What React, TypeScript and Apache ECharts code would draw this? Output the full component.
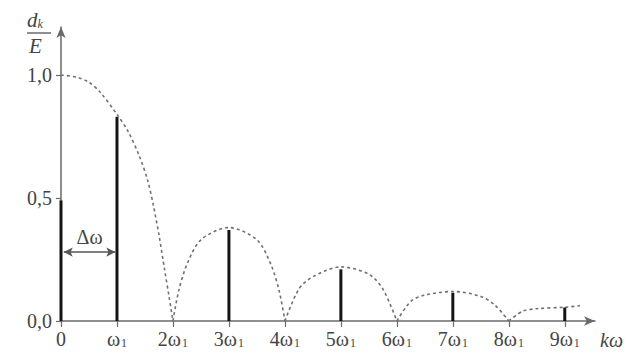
import React, { useEffect, useRef } from "react";
import * as echarts from "echarts";

// Harmonic positions (multiples of ω1) and normalised amplitudes d_k / E
const harmonicK = [0, 1, 3, 5, 7, 9];
const amplitudes = [0.49, 0.83, 0.37, 0.21, 0.115, 0.055];

// x tick labels (k·ω1)
const xTickValues = [0, 1, 2, 3, 4, 5, 6, 7, 8, 9];
const xTickLabels = ["0", "ω|1", "2ω|1", "3ω|1", "4ω|1", "5ω|1", "6ω|1", "7ω|1", "8ω|1", "9ω|1"];

// y tick labels
const yTickValues = [0, 0.5, 1.0];
const yTickLabels = ["0,0", "0,5", "1,0"];

// Envelope (dashed), one lobe at a time
const lobe1: [number, number][] = [
  [0, 1.0], [0.3, 0.99], [0.5, 0.97], [0.7, 0.93], [1, 0.84], [1.2, 0.77], [1.4, 0.67],
  [1.55, 0.57], [1.65, 0.47], [1.75, 0.35], [1.85, 0.21], [1.93, 0.1], [2, 0],
];
const lobe2: [number, number][] = [
  [2, 0], [2.1, 0.12], [2.25, 0.23], [2.5, 0.33], [3, 0.38], [3.5, 0.33], [3.75, 0.23], [3.9, 0.12], [4, 0],
];
const lobe3: [number, number][] = [
  [4, 0], [4.25, 0.13], [4.5, 0.18], [5, 0.22], [5.5, 0.19], [5.75, 0.13], [6, 0],
];
const lobe4: [number, number][] = [
  [6, 0], [6.25, 0.08], [6.5, 0.105], [7, 0.12], [7.5, 0.1], [7.75, 0.065], [8, 0],
];
const lobe5: [number, number][] = [
  [8, 0], [8.25, 0.04], [8.5, 0.05], [9, 0.056], [9.27, 0.062],
];

// Spacing annotation
const deltaLabel = "Δω";
const deltaY = 0.28;

const FONT = "'Liberation Serif', 'Times New Roman', serif";
const TEXT = "#444444";
const AXIS = "#6a6a6a";

export default function App() {
  const ref = useRef<HTMLDivElement>(null);

  useEffect(() => {
    if (!ref.current) return;
    const chart = echarts.init(ref.current, null, { renderer: "svg" });

    const lobeSeries = [lobe1, lobe2, lobe3, lobe4, lobe5].map((d) => ({
      type: "line",
      data: d,
      smooth: 0.3,
      showSymbol: false,
      silent: true,
      lineStyle: { color: "#707070", width: 1.6, type: [3, 3] },
      z: 1,
    }));

    chart.setOption({
      animation: false,
      backgroundColor: "#ffffff",
      grid: { left: 61, right: 32, top: 27, bottom: 35 },
      xAxis: {
        type: "value",
        min: 0,
        max: 9.54,
        interval: 1,
        splitLine: { show: false },
        axisLine: {
          lineStyle: { color: AXIS, width: 1.5 },
          symbol: ["none", "arrow"],
          symbolSize: [7, 11],
        },
        axisTick: {
          show: true,
          length: 6,
          lineStyle: { color: AXIS, width: 1.2 },
          customValues: xTickValues,
        },
        axisLabel: {
          customValues: xTickValues,
          margin: 7,
          formatter: (v: number) => {
            const i = xTickValues.indexOf(Math.round(v));
            const s = xTickLabels[i] ?? "";
            const parts = s.split("|");
            return parts.length === 2 ? `{m|${parts[0]}}{s|${parts[1]}}` : `{m|${s}}`;
          },
          rich: {
            m: { fontFamily: FONT, fontSize: 20, color: TEXT, verticalAlign: "bottom", lineHeight: 21 },
            s: { fontFamily: FONT, fontSize: 12, color: TEXT, verticalAlign: "bottom", lineHeight: 16, padding: [0, 0, 0, 1] },
          },
        },
      },
      yAxis: {
        type: "value",
        min: 0,
        max: 1.195,
        interval: 0.5,
        splitLine: { show: false },
        axisLine: {
          lineStyle: { color: AXIS, width: 1.5 },
          symbol: ["none", "arrow"],
          symbolSize: [7, 11],
        },
        axisTick: {
          show: true,
          length: 5,
          lineStyle: { color: AXIS, width: 1.2 },
          customValues: yTickValues,
        },
        axisLabel: {
          customValues: yTickValues,
          margin: 9,
          fontFamily: FONT,
          fontSize: 20,
          color: TEXT,
          formatter: (v: number) => {
            const i = yTickValues.findIndex((t) => Math.abs(t - v) < 1e-6);
            return i >= 0 ? yTickLabels[i] : "";
          },
        },
      },
      series: [
        ...lobeSeries,
        {
          type: "bar",
          data: harmonicK.map((k, i) => [k, amplitudes[i]]),
          barWidth: 3,
          itemStyle: { color: "#151515" },
          z: 3,
          markLine: {
            silent: true,
            symbol: ["arrow", "arrow"],
            symbolSize: [7, 9],
            lineStyle: { color: "#555", width: 1.5, type: "solid" },
            label: {
              show: true,
              position: "insideMiddleTop",
              formatter: deltaLabel,
              fontFamily: FONT,
              fontSize: 20,
              color: TEXT,
              distance: 5,
            },
            data: [
              [
                { coord: [0.05, deltaY] },
                { coord: [0.97, deltaY] },
              ],
            ],
          },
        },
      ],
      graphic: [
        {
          type: "text",
          left: 27,
          top: 9,
          style: {
            text: "{d|d}{k|k}",
            rich: {
              d: { fontFamily: FONT, fontStyle: "italic", fontSize: 21, fill: TEXT, verticalAlign: "bottom", lineHeight: 21 },
              k: { fontFamily: FONT, fontStyle: "italic", fontSize: 12, fill: TEXT, verticalAlign: "bottom", lineHeight: 15 },
            },
          },
        },
        {
          type: "line",
          shape: { x1: 27, y1: 33, x2: 51, y2: 33 },
          style: { stroke: TEXT, lineWidth: 1.2 },
        },
        {
          type: "text",
          left: 29,
          top: 35,
          style: { text: "E", fontFamily: FONT, fontStyle: "italic", fontSize: 21, fill: TEXT },
        },
        {
          type: "text",
          left: 600,
          top: 330,
          style: { text: "kω", fontFamily: FONT, fontStyle: "italic", fontSize: 20, fill: TEXT },
        },
      ],
    });

    return () => chart.dispose();
  }, []);

  return (
    <div
      ref={ref}
      style={{ position: "absolute", left: 0, top: 0, width: 627, height: 356, background: "#fff" }}
    />
  );
}
